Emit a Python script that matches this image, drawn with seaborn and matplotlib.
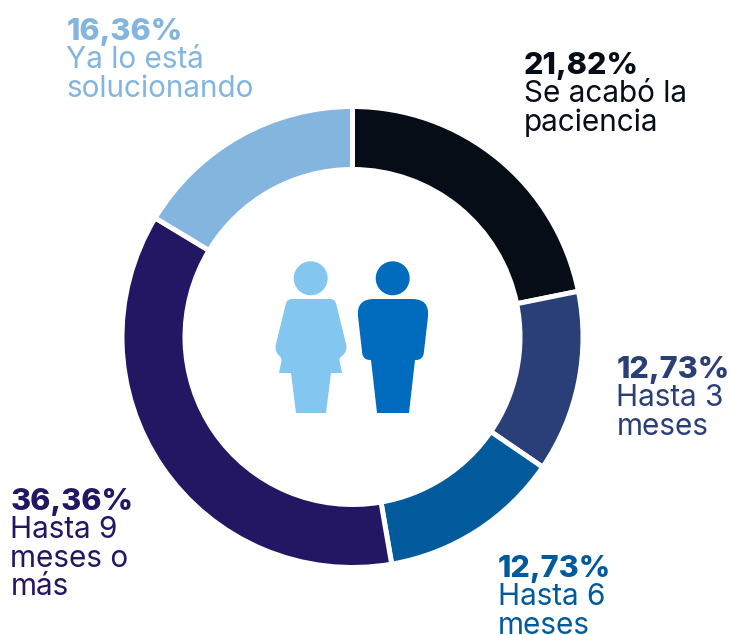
import matplotlib
matplotlib.use('Agg')
import matplotlib.pyplot as plt
import seaborn as sns
from matplotlib.patches import Circle, PathPatch
from matplotlib.path import Path

# slices, clockwise from 12 o'clock
values = [21.82, 12.73, 12.73, 36.36, 16.36]
pct_labels = ['21,82%', '12,73%', '12,73%', '36,36%', '16,36%']
categories = [
    ['Se acabó la', 'paciencia'],
    ['Hasta 3', 'meses'],
    ['Hasta 6', 'meses'],
    ['Hasta 9', 'meses o', 'más'],
    ['Ya lo está', 'solucionando'],
]
colors = ['#060d17', '#2a3f78', '#015a9c', '#231764', '#83b5df']

W, H = 730, 635
CX, CY, R_OUT, R_IN = 352.5, 337, 230.5, 167.5

# label anchors in image pixels (left edge, baseline of first line)
label_pos = [(523.5, 74), (616.5, 378), (497.5, 577), (10.5, 510), (66.5, 40)]
LINE_STEP = 28.3


def py(y):
    return H - y


def rounded(points):
    # points are (x, y, r), r is the corner radius in pixels
    verts, codes = [], []
    n = len(points)
    for i, (x, y, r) in enumerate(points):
        px, py_, _ = points[i - 1]
        nx, ny, _ = points[(i + 1) % n]
        if r == 0:
            verts.append((x, py(y)))
            codes.append(Path.LINETO if verts[:-1] else Path.MOVETO)
            continue
        d1 = ((px - x) ** 2 + (py_ - y) ** 2) ** .5
        d2 = ((nx - x) ** 2 + (ny - y) ** 2) ** .5
        a = (x + (px - x) * r / d1, y + (py_ - y) * r / d1)
        b = (x + (nx - x) * r / d2, y + (ny - y) * r / d2)
        verts += [(a[0], py(a[1])), (x, py(y)), (b[0], py(b[1]))]
        codes += [Path.LINETO if verts[:-3] else Path.MOVETO, Path.CURVE3, Path.CURVE3]
    verts.append(verts[0])
    codes.append(Path.CLOSEPOLY)
    return Path(verts, codes)


sns.set_theme(style='white')
plt.rcParams['font.family'] = ['Inter', 'DejaVu Sans']

fig = plt.figure(figsize=(W / 100, H / 100), dpi=100)
ax = fig.add_axes([0, 0, 1, 1])

ax.pie(values, colors=sns.color_palette(colors), startangle=90, counterclock=False,
       center=(CX, py(CY)), radius=R_OUT,
       wedgeprops={'width': R_OUT - R_IN, 'edgecolor': 'white', 'linewidth': 3.6})
ax.set_xlim(0, W)
ax.set_ylim(0, H)
ax.axis('off')

# woman icon
woman = '#83c7f1'
ax.add_patch(Circle((310.7, py(278.3)), 17, fc=woman, ec='none'))
ax.add_patch(PathPatch(rounded([
    (287, 299, 5), (335, 299, 5), (348, 352, 8), (339, 358, 3),
    (342, 373, 0), (331, 373, 0), (326, 413, 0), (296, 413, 0), (291, 373, 0),
    (279, 373, 0), (282, 358, 3), (274, 352, 8),
]), fc=woman, ec='none'))

# man icon
man = '#016cbe'
ax.add_patch(Circle((392.7, py(278.3)), 17, fc=man, ec='none'))
ax.add_patch(PathPatch(rounded([
    (356, 299, 18), (430, 299, 18), (423, 360, 7), (415, 360, 0), (409, 413, 0),
    (377, 413, 0), (371, 360, 0), (363, 360, 7),
]), fc=man, ec='none'))

for (x, y), pct, cat, color in zip(label_pos, pct_labels, categories, colors):
    ax.text(x, py(y), pct, color=color, fontsize=22, fontweight=800, va='baseline', ha='left')
    for i, line in enumerate(cat):
        ax.text(x, py(y + (i + 1) * LINE_STEP), line, color=color, fontsize=21.4,
                fontweight='normal', va='baseline', ha='left')

fig.savefig('out.png', dpi=100)
